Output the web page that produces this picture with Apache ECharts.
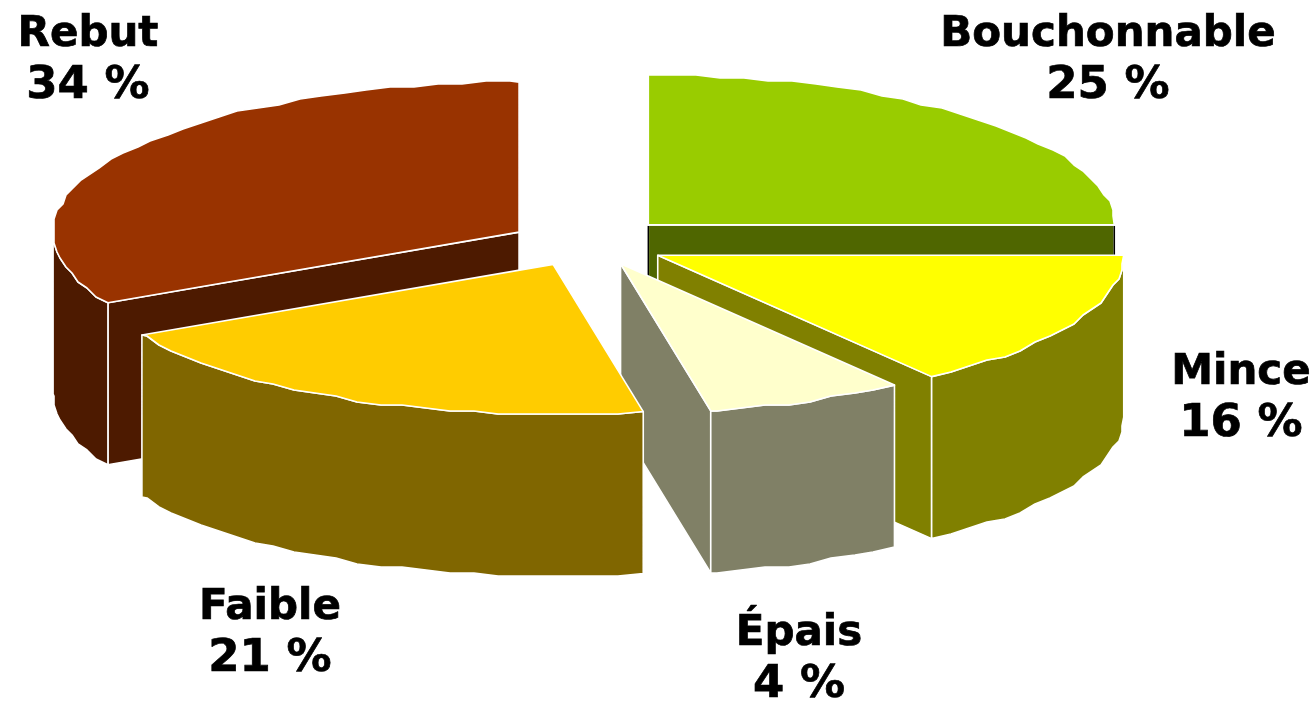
<!DOCTYPE html>
<html>
<head>
<meta charset="utf-8">
<style>html,body{margin:0;padding:0;background:#fff}#c{width:1316px;height:701px}</style>
<script src="https://cdn.jsdelivr.net/npm/echarts@6/dist/echarts.min.js"></script>
</head>
<body>
<div id="c"></div>
<script>
// Category names and the printed percentages.
const categories = ['Bouchonnable', 'Mince', 'Épais', 'Faible', 'Rebut'];
const labelPercents = [25, 16, 4, 21, 34];
// Slice shares as drawn: the picture's angles differ a little from its printed percentages.
const sliceShares = [25, 15, 6.9, 20.3, 32.8];

const topColors = ['#99CC00', '#FFFF00', '#FFFFCC', '#FFCC00', '#993300'];
const wallColors = ['#4F6600', '#808000', '#808066', '#806600', '#4D1A00'];
const drawOrder = ['Bouchonnable', 'Rebut', 'Mince', 'Épais', 'Faible'];
const labelCentres = [[1108, 35], [1241, 373], [799, 634], [270, 608], [88, 35]];
const explodeNudges = [[1, 1], [-5, 0], [-1, -4], [1, -3], [3, 3]];

const pie = { cx: 588, cy: 243, rx: 466, ry: 150, depth: 162, explode: 0.18 };
const rad = d => d * Math.PI / 180;
const total = sliceShares.reduce((a, b) => a + b, 0);
const starts = [];
sliceShares.reduce((acc, s, i) => { starts[i] = acc; return acc + s; }, 0);

function wobble(v, g) { return Math.round(v / g) * g; }

function rim(ax, ay, a0, a1) {
  const pts = [];
  const step = 3;
  for (let a = a0; a < a1; a += step) {
    const x = ax + pie.rx * Math.sin(rad(a));
    const y = ay - pie.ry * Math.cos(rad(a));
    pts.push(a === a0 ? [x, y] : [wobble(x, 3), wobble(y, 3)]);
  }
  pts.push([ax + pie.rx * Math.sin(rad(a1)), ay - pie.ry * Math.cos(rad(a1))]);
  return pts;
}
const down = pts => pts.map(p => [p[0], p[1] + pie.depth]);

function renderSlice(params, api) {
  const i = params.dataIndex;
  const share = api.value(0);
  const a0 = starts[i] / total * 360;
  const a1 = a0 + share / total * 360;
  const mid = (a0 + a1) / 2;
  const ax = pie.cx + pie.explode * pie.rx * Math.sin(rad(mid)) + explodeNudges[i][0];
  const ay = pie.cy - pie.explode * pie.ry * Math.cos(rad(mid)) + explodeNudges[i][1];
  const rank = drawOrder.indexOf(categories[i]) * 10;
  const edge = { stroke: '#fff', lineWidth: 1.6, lineJoin: 'round' };
  const children = [];
  const poly = (points, fill, z) => children.push({
    type: 'polygon', z2: rank + z, shape: { points }, style: Object.assign({ fill }, edge)
  });

  // cut faces that look towards the viewer
  [[a0, a0 - 90], [a1, a1 + 90]].forEach(([a, normal]) => {
    if (Math.cos(rad(normal)) < 0) {
      const r = [ax + pie.rx * Math.sin(rad(a)), ay - pie.ry * Math.cos(rad(a))];
      poly([[ax, ay], r, [r[0], r[1] + pie.depth], [ax, ay + pie.depth]], wallColors[i], 1);
      if (categories[i] === 'Bouchonnable') {
        [[ax, ay], r].forEach(p => children.push({
          type: 'line', z2: rank + 2,
          shape: { x1: p[0], y1: p[1] + 1, x2: p[0], y2: p[1] + pie.depth },
          style: { stroke: '#000', lineWidth: 1.5 }
        }));
      }
    }
  });
  // outer wall: the part of the rim on the front half
  const w0 = Math.max(a0, 90), w1 = Math.min(a1, 270);
  if (w1 > w0) {
    const r = rim(ax, ay, w0, w1);
    poly(r.concat(down(r).reverse()), wallColors[i], 3);
  }
  // top face
  poly([[ax, ay]].concat(rim(ax, ay, a0, a1)), topColors[i], 4);

  return { type: 'group', children };
}

function renderLabel(params) {
  const i = params.dataIndex;
  const base = {
    align: 'center', verticalAlign: 'middle', x: labelCentres[i][0],
    fontFamily: 'DejaVu Sans', fontWeight: 'bold', fill: '#000', stroke: '#000', lineWidth: 0.7
  };
  return {
    type: 'group',
    children: [
      { type: 'text', z2: 100, style: Object.assign({}, base, {
        text: categories[i], y: labelCentres[i][1], fontSize: 42 }) },
      { type: 'text', z2: 100, style: Object.assign({}, base, {
        text: labelPercents[i] + ' %', y: labelCentres[i][1] + 51, fontSize: 45 }) }
    ]
  };
}

const chart = echarts.init(document.getElementById('c'), null, { renderer: 'canvas' });
chart.setOption({
  animation: false,
  backgroundColor: '#fff',
  series: [
    { type: 'custom', coordinateSystem: 'none', silent: true, renderItem: renderSlice,
      data: sliceShares.map((v, i) => ({ name: categories[i], value: [v] })) },
    { type: 'custom', coordinateSystem: 'none', silent: true, renderItem: renderLabel,
      data: labelPercents.map((v, i) => ({ name: categories[i], value: [v] })) }
  ]
});
</script>
</body>
</html>
